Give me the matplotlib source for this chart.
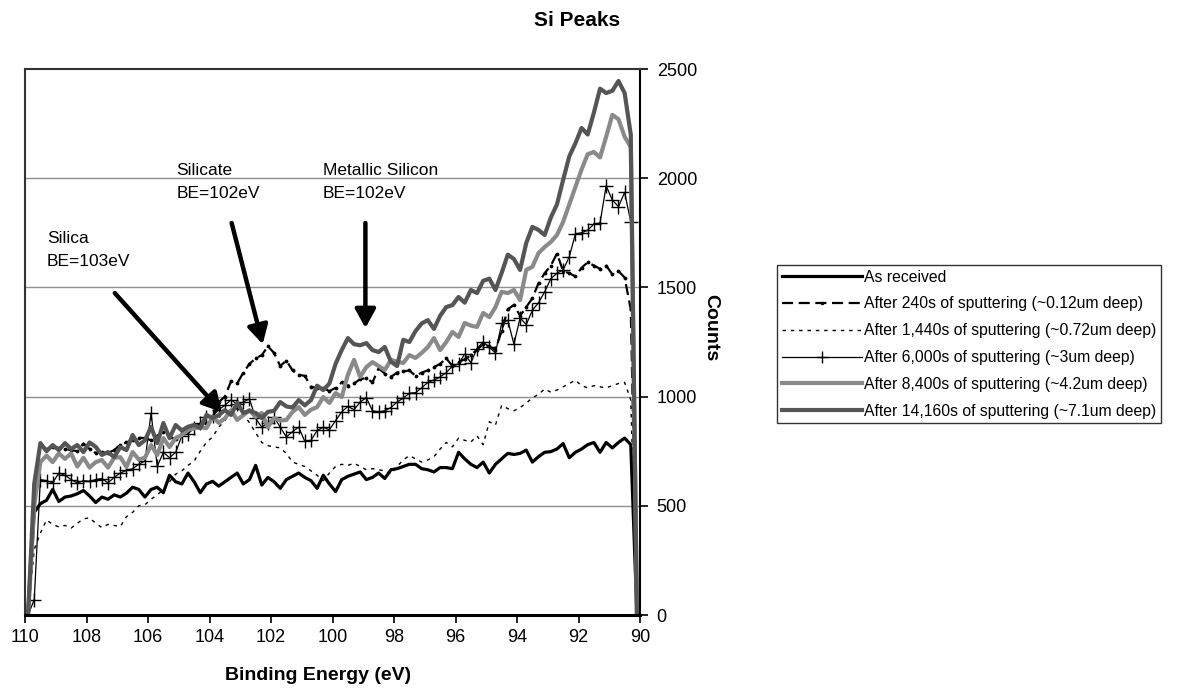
import numpy as np
import matplotlib
matplotlib.use("Agg")
import matplotlib.pyplot as plt

plt.rcParams['font.family'] = ['Liberation Sans', 'DejaVu Sans']

# binding energy grid, 109.9 -> 90.1 eV in 0.2 eV steps
energy = np.linspace(109.9, 90.1, 100)

as_received = [20, 470, 510, 525, 575, 520, 540, 545, 555, 570,
               545, 515, 540, 530, 550, 540, 558, 585, 575, 540,
               575, 585, 560, 640, 610, 600, 650, 610, 560, 600,
               612, 590, 610, 630, 650, 600, 620, 685, 595, 630,
               610, 580, 620, 635, 650, 630, 615, 580, 640, 600,
               565, 620, 635, 645, 655, 620, 630, 650, 625, 665,
               670, 680, 690, 690, 670, 665, 655, 675, 675, 670,
               745, 715, 690, 675, 700, 650, 690, 715, 740, 735,
               740, 755, 700, 725, 745, 748, 760, 785, 720, 745,
               760, 780, 790, 745, 790, 765, 790, 810, 780, 0]

s240 = [0, 600, 780, 760, 770, 765, 760, 755, 750, 785,
        760, 742, 745, 742, 755, 780, 790, 800, 812, 810,
        800, 820, 838, 815, 805, 833, 845, 860, 872, 880,
        905, 975, 1000, 1070, 1060, 1110, 1150, 1175, 1190, 1230,
        1200, 1140, 1165, 1120, 1100, 1095, 1045, 1040, 1040, 1025,
        1040, 1065, 1050, 1060, 1080, 1085, 1065, 1130, 1105, 1090,
        1110, 1115, 1120, 1095, 1110, 1120, 1135, 1150, 1175, 1140,
        1160, 1170, 1190, 1215, 1240, 1230, 1215, 1300, 1400, 1420,
        1370, 1410, 1450, 1520, 1565, 1600, 1655, 1575, 1565, 1550,
        1590, 1615, 1600, 1585, 1600, 1560, 1575, 1545, 1400, 0]

s1440 = [0, 300, 375, 435, 415, 403, 410, 398, 420, 440,
         445, 420, 400, 415, 410, 405, 450, 470, 500, 505,
         530, 550, 575, 610, 645, 660, 685, 705, 750, 790,
         815, 860, 890, 930, 945, 920, 880, 835, 790, 775,
         770, 765, 740, 700, 690, 680, 660, 640, 615, 650,
         680, 690, 685, 695, 680, 665, 670, 665, 660, 645,
         680, 710, 730, 715, 700, 710, 725, 760, 790, 770,
         810, 800, 792, 820, 780, 885, 870, 960, 945, 935,
         950, 970, 995, 1010, 1035, 1020, 1030, 1045, 1060, 1075,
         1050, 1040, 1050, 1045, 1040, 1050, 1060, 1065, 985, 0]

s6000 = [0, 70, 620, 615, 605, 650, 640, 620, 605, 615,
         612, 620, 625, 605, 630, 650, 662, 670, 690, 705,
         925, 680, 745, 720, 745, 820, 830, 855, 880, 905,
         910, 940, 960, 985, 965, 975, 990, 900, 860, 880,
         905, 860, 815, 840, 860, 795, 800, 845, 860, 848,
         890, 930, 955, 940, 975, 995, 935, 930, 935, 950,
         975, 993, 1015, 1018, 1040, 1065, 1076, 1090, 1110, 1140,
         1150, 1195, 1155, 1220, 1250, 1225, 1200, 1335, 1350, 1240,
         1360, 1330, 1395, 1430, 1480, 1540, 1565, 1580, 1640, 1745,
         1750, 1762, 1790, 1795, 1965, 1900, 1870, 1935, 1800, 0]

s8400 = [0, 500, 700, 730, 700, 740, 715, 740, 680, 720,
         675, 700, 710, 675, 720, 723, 678, 746, 712, 720,
         778, 733, 810, 769, 810, 824, 847, 855, 860, 856,
         907, 880, 900, 938, 893, 915, 938, 907, 925, 861,
         902, 890, 893, 930, 952, 916, 940, 952, 998, 971,
         1016, 998, 1100, 1168, 1090, 1135, 1158, 1140, 1122, 1168,
         1160, 1154, 1190, 1177, 1200, 1227, 1268, 1213, 1250, 1296,
         1273, 1337, 1325, 1319, 1383, 1364, 1410, 1480, 1474, 1488,
         1442, 1580, 1594, 1657, 1685, 1708, 1740, 1800, 1880, 1960,
         2040, 2110, 2120, 2095, 2190, 2290, 2270, 2190, 2143, 0]

s14160 = [0, 600, 787, 750, 778, 755, 787, 760, 778, 746,
          790, 770, 733, 746, 723, 769, 755, 824, 778, 800,
          861, 787, 879, 810, 870, 845, 862, 870, 856, 916,
          902, 915, 938, 916, 971, 925, 935, 925, 902, 930,
          935, 975, 955, 950, 984, 960, 984, 1050, 1030, 1060,
          1150, 1213, 1268, 1240, 1235, 1245, 1213, 1204, 1227, 1160,
          1140, 1260, 1250, 1300, 1335, 1350, 1310, 1370, 1410, 1419,
          1456, 1430, 1488, 1474, 1530, 1540, 1488, 1566, 1650, 1630,
          1580, 1703, 1777, 1763, 1740, 1820, 1880, 1992, 2100, 2160,
          2230, 2200, 2300, 2410, 2390, 2400, 2445, 2390, 2200, 0]

labels = ["As received",
          "After 240s of sputtering (~0.12um deep)",
          "After 1,440s of sputtering (~0.72um deep)",
          "After 6,000s of sputtering (~3um deep)",
          "After 8,400s of sputtering (~4.2um deep)",
          "After 14,160s of sputtering (~7.1um deep)"]

fig = plt.figure(figsize=(11.77, 6.94), dpi=100)
ax = fig.add_axes([25/1177, 1 - 615/694, 615/1177, 546/694])

ax.plot(energy, as_received, color='black', lw=2.3, label=labels[0])
ax.plot(energy, s240, color='black', lw=1.6, ls=(0, (5, 2.5)),
        marker='.', ms=3.5, label=labels[1])
ax.plot(energy, s1440, color='black', lw=1.0, ls=(0, (2.5, 3.5)), label=labels[2])
ax.plot(energy, s6000, color='black', lw=0.9, marker='+', ms=10, mew=1.0,
        label=labels[3])
ax.plot(energy, s8400, color='#8a8a8a', lw=3.0, label=labels[4])
ax.plot(energy, s14160, color='#555555', lw=3.0, label=labels[5])

ax.set_xlim(110, 90)
ax.set_ylim(0, 2500)
ax.set_xticks(np.arange(110, 89, -2))
ax.set_yticks(np.arange(0, 2501, 500))
ax.yaxis.tick_right()
ax.tick_params(axis='both', labelsize=13, direction='out', length=6,
               width=1.2, colors='black')
ax.tick_params(axis='y', pad=6)
ax.tick_params(axis='x', pad=4)
for y in [500, 1000, 1500, 2000]:
    ax.axhline(y, color='#909090', lw=1.0, zorder=0)
ax.spines['top'].set_color('#333333')
ax.spines['left'].set_color('#333333')
ax.spines['top'].set_linewidth(1.5)
ax.spines['left'].set_linewidth(1.5)
ax.spines['bottom'].set_linewidth(2.2)
ax.spines['right'].set_linewidth(1.5)

# annotations
arrow = dict(arrowstyle='-|>,head_length=0.4,head_width=0.22', lw=3.2,
             color='black', mutation_scale=28, shrinkA=0, shrinkB=0)
ax.annotate('', xy=(103.6, 929), xytext=(107.08, 1474), arrowprops=arrow)
ax.annotate('', xy=(102.27, 1240), xytext=(103.28, 1795), arrowprops=arrow)
ax.annotate('', xy=(98.93, 1314), xytext=(98.93, 1795), arrowprops=arrow)
ax.text(109.29, 1671, "Silica\nBE=103eV", fontsize=12.5, va='center',
        ha='left', linespacing=1.6)
ax.text(105.07, 1983, "Silicate\nBE=102eV", fontsize=12.5, va='center',
        ha='left', linespacing=1.6)
ax.text(100.32, 1983, "Metallic Silicon\nBE=102eV", fontsize=12.5,
        va='center', ha='left', linespacing=1.6)

fig.text(577/1177, 1 - 20/694, "Si Peaks", fontsize=15, fontweight='bold',
         ha='center', va='center')
fig.text(318/1177, 1 - 675/694, "Binding Energy (eV)", fontsize=14,
         fontweight='bold', ha='center', va='center')
fig.text(711/1177, 1 - 328/694, "Counts", fontsize=14, fontweight='bold',
         rotation=-90, ha='center', va='center')

leg = ax.legend(loc='upper left', bbox_to_anchor=(777/1177, 1 - 265/694),
                bbox_transform=fig.transFigure, borderaxespad=0,
                fontsize=11.3, frameon=True, fancybox=False, handlelength=5.1,
                handletextpad=0.12, labelspacing=0.75, borderpad=0.3,
                markerscale=0.9)
leg.get_frame().set_edgecolor('black')
leg.get_frame().set_linewidth(1.0)
for line in leg.get_lines():
    if line.get_marker() == '.':
        line.set_markevery([1])

fig.savefig("out.png", dpi=100)
